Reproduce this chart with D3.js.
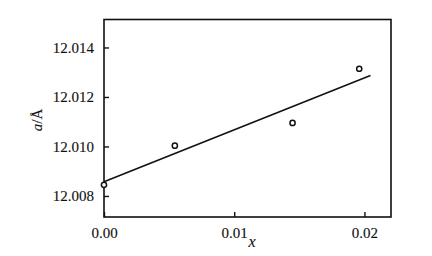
<!DOCTYPE html>
<html><head><meta charset="utf-8">
<script src="https://cdn.jsdelivr.net/npm/d3@7"></script>
<style>body{margin:0;background:#fff}svg{display:block}svg text{font-family:"Liberation Serif","Times New Roman","DejaVu Serif",serif !important;fill:#111;stroke:#111;stroke-width:0.12px}</style>
</head><body><div id="chart"></div>
<script>
const xValues = [0.0, 0.00544, 0.01448, 0.0196];
const aValues = [12.00845, 12.01003, 12.01095, 12.01314];
const fitX = [0.0, 0.02046];
const fitA = [12.00857, 12.01287];
const xTicks = [0.00, 0.01, 0.02];
const yTicks = [12.008, 12.010, 12.012, 12.014];

const W = 432, H = 256;
const m = {left: 104, right: 41, top: 19.5, bottom: 39};
const svg = d3.select("#chart").append("svg").attr("width", W).attr("height", H);
const x = d3.scaleLinear().domain([0, 0.02204]).range([m.left, W - m.right]);
const y = d3.scaleLinear().domain([12.00715, 12.01513]).range([H - m.bottom, m.top]);

const g = svg.append("g");
g.append("rect").attr("x", m.left).attr("y", m.top)
  .attr("width", W - m.right - m.left).attr("height", H - m.bottom - m.top)
  .attr("fill", "none").attr("stroke", "#111").attr("stroke-width", 1.6);

const xAxis = g.append("g").attr("transform", `translate(0,${H - m.bottom})`)
  .call(d3.axisBottom(x).tickValues(xTicks).tickFormat(d3.format(".2f")).tickSizeInner(-5).tickSizeOuter(0).tickPadding(10));
const yAxis = g.append("g").attr("transform", `translate(${m.left},0)`)
  .call(d3.axisLeft(y).tickValues(yTicks).tickFormat(d3.format(".3f")).tickSizeInner(-5).tickSizeOuter(0).tickPadding(10));
[xAxis, yAxis].forEach(a => {
  a.attr("font-family", "Liberation Serif").attr("font-size", 15);
  a.select(".domain").remove();
  a.selectAll("line").attr("stroke", "#111").attr("stroke-width", 1.4);
  a.selectAll("text").attr("fill", "#111");
});

const line = d3.line().x((d, i) => x(fitX[i])).y((d, i) => y(fitA[i]));
g.append("path").datum(fitX).attr("d", line).attr("fill", "none")
  .attr("stroke", "#111").attr("stroke-width", 1.6);

g.selectAll("circle.pt").data(xValues).join("circle").attr("class", "pt")
  .attr("cx", (d) => x(d)).attr("cy", (d, i) => y(aValues[i])).attr("r", 2.6)
  .attr("fill", "#fff").attr("stroke", "#111").attr("stroke-width", 1.5);

svg.append("text").attr("x", 252).attr("y", 247).attr("text-anchor", "middle")
  .attr("font-size", 16).style("font-style", "italic").text("x");
const yl = svg.append("text").attr("transform", "translate(42,120) rotate(-90)")
  .attr("text-anchor", "middle").attr("font-size", 15);
yl.append("tspan").style("font-style", "italic").text("a");
yl.append("tspan").text("/Å");
</script></body></html>
